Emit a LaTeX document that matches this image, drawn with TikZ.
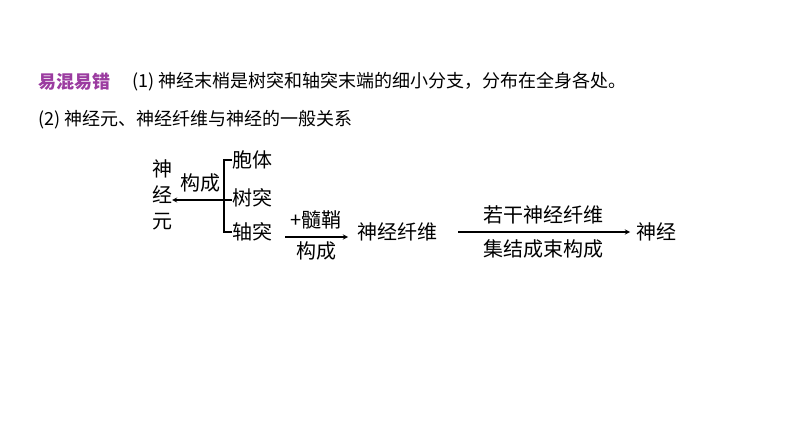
\documentclass[tikz,border=0pt]{standalone}
\usepackage{fontspec}
\newfontfamily\cjk{Noto Sans CJK SC}
\definecolor{hd}{RGB}{155,60,160}
\begin{document}
\begin{tikzpicture}[x=1pt,y=-1pt,
  t/.style={font=\cjk\fontsize{18}{20}\selectfont,inner sep=0pt},
  d/.style={font=\cjk\fontsize{20}{22}\selectfont,inner sep=0pt},
  ln/.style={line width=1.3pt},
  ar/.style={line width=1.3pt,-stealth}]
\useasboundingbox (0,0) rectangle (794,446);
\node[t,anchor=west,text=hd,font=\cjk\bfseries\fontsize{18}{20}\selectfont] (h) at (38,82) {易混易错};
\node[t,anchor=west] (l1) at (132,82) {(1) 神经末梢是树突和轴突末端的细小分支，分布在全身各处。};
\node[t,anchor=west] (l2) at (38,120) {(2) 神经元、神经纤维与神经的一般关系};
\node[d,align=center] (ny) at (162,195) {神\\[4pt]经\\[4pt]元};
\coordinate (vt) at (224,160); \coordinate (vb) at (224,232); \coordinate (vm) at (224,200);
\draw[ln] (232,160) -- (vt) -- (vb) -- (232,232);
\draw[ln] (vm) -- (232,200);
\draw[ar] (vm) -- (172,200);
\node[d] (gc1) at (200,183) {构成};
\node[d,anchor=west] (bt) at (232,160) {胞体};
\node[d,anchor=west] (sd) at (232,198) {树突};
\node[d,anchor=west] (zt) at (232,232) {轴突};
\coordinate (a1) at (285,237); \coordinate (a2) at (348,237);
\draw[ar] (a1) -- (a2);
\node[d] (sq) at (316,220) {+髓鞘};
\node[d] (gc2) at (316,251) {构成};
\node[d,anchor=west] (xw) at (357,232) {神经纤维};
\coordinate (b1) at (458,232); \coordinate (b2) at (630,232);
\draw[ar] (b1) -- (b2);
\node[d] (rg) at (543,215) {若干神经纤维};
\node[d] (jj) at (543,249) {集结成束构成};
\node[d,anchor=west] (sj) at (636,232) {神经};
\end{tikzpicture}
\end{document}
